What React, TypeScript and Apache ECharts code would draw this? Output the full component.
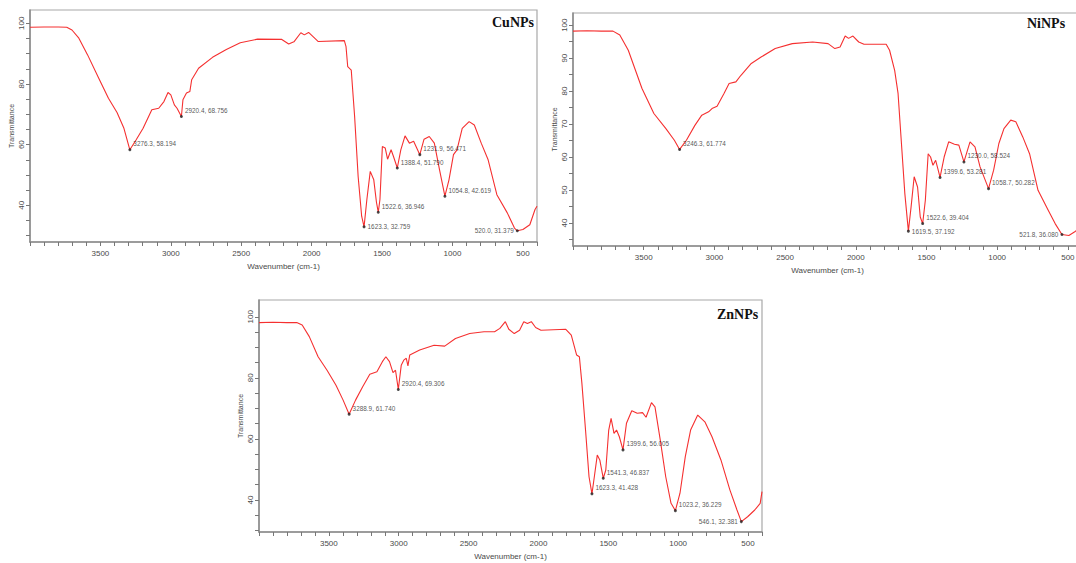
import React, { useEffect, useRef } from "react";
import * as echarts from "echarts";

// ---------- DATA ----------
const cuWavenumber = [4000, 3900, 3800, 3739, 3702, 3653, 3591, 3517, 3443, 3382, 3333, 3291, 3246, 3197, 3135, 3086, 3049, 3020, 3000, 2975, 2956, 2925, 2914, 2889, 2865, 2852, 2803, 2704, 2606, 2507, 2384, 2212, 2163, 2126, 2077, 2052, 2022, 1990, 1953, 1768, 1756, 1744, 1719, 1695, 1670, 1645, 1628, 1608, 1584, 1559, 1540, 1527, 1515, 1498, 1478, 1461, 1436, 1419, 1392, 1367, 1337, 1306, 1276, 1232, 1202, 1165, 1129, 1092, 1054, 1025, 993, 968, 931, 882, 845, 796, 747, 685, 611, 560, 540, 500, 451, 414, 400];
const cuTransmittance = [98.7, 98.8, 98.8, 98.7, 97.8, 95.1, 89.6, 82.4, 75.3, 70.6, 65.4, 58.3, 61.6, 65.4, 71.5, 72.0, 74.2, 77.2, 76.4, 73.1, 72.0, 69.3, 74.8, 77.0, 77.5, 81.4, 85.2, 88.8, 91.4, 93.6, 94.8, 94.7, 93.2, 93.9, 96.9, 96.2, 97.0, 95.6, 94.0, 94.3, 92.3, 85.7, 84.6, 69.3, 49.5, 36.4, 32.9, 41.9, 51.2, 48.4, 41.0, 37.7, 42.0, 59.4, 58.9, 55.2, 58.3, 56.1, 52.3, 58.3, 62.9, 60.5, 61.1, 56.7, 61.8, 62.7, 60.5, 51.7, 43.0, 48.4, 56.7, 58.3, 65.4, 67.6, 66.5, 60.5, 55.0, 43.5, 37.5, 32.5, 31.6, 32.0, 33.6, 38.6, 39.7];
const cuPeakWavenumber = [3291, 2925, 1628, 1527, 1392, 1232, 1054, 540];
const cuPeakTransmittance = [58.3, 69.3, 32.9, 37.7, 52.3, 56.7, 43.0, 31.6];
const cuPeakLabels = ["3276.3, 58.194", "2920.4, 68.756", "1623.3, 32.759", "1522.6, 36.946", "1388.4, 51.790", "1231.9, 56.471", "1054.8, 42.619", "520.0, 31.379"];

const niWavenumber = [4000, 3900, 3800, 3717, 3669, 3609, 3512, 3428, 3343, 3283, 3246, 3198, 3138, 3089, 3041, 3017, 2981, 2932, 2896, 2848, 2812, 2739, 2667, 2570, 2449, 2305, 2196, 2148, 2111, 2075, 2051, 2020, 1979, 1942, 1785, 1761, 1725, 1701, 1677, 1653, 1628, 1609, 1587, 1563, 1544, 1527, 1508, 1488, 1471, 1454, 1435, 1423, 1404, 1375, 1343, 1302, 1271, 1235, 1192, 1157, 1121, 1061, 1025, 988, 952, 904, 868, 819, 771, 711, 638, 590, 542, 493, 451, 420, 400];
const niTransmittance = [98.2, 98.3, 98.2, 98.2, 97.0, 92.4, 80.8, 73.2, 68.6, 65.1, 62.3, 65.1, 69.6, 72.7, 73.7, 74.7, 75.4, 79.3, 82.3, 82.8, 84.8, 88.4, 90.4, 92.9, 94.4, 94.9, 94.4, 92.9, 93.4, 96.7, 96.0, 96.7, 94.9, 94.2, 94.2, 92.4, 86.3, 79.3, 64.1, 48.9, 37.5, 44.8, 54.0, 50.9, 41.8, 39.8, 46.9, 61.0, 60.0, 57.5, 59.0, 57.0, 53.8, 60.0, 64.6, 63.9, 63.6, 58.5, 64.6, 63.1, 57.0, 50.4, 56.0, 64.1, 68.6, 71.2, 70.7, 66.1, 61.0, 49.9, 43.8, 39.8, 36.5, 36.2, 37.3, 38.5, 39.5];
const niPeakWavenumber = [3246, 1628, 1527, 1404, 1235, 1061, 542];
const niPeakTransmittance = [62.3, 37.5, 39.8, 53.8, 58.5, 50.4, 36.5];
const niPeakLabels = ["3246.3, 61.774", "1619.5, 37.192", "1522.6, 39.404", "1399.6, 53.281", "1230.0, 58.524", "1058.7, 50.282", "521.8, 36.080"];

const znWavenumber = [4000, 3900, 3800, 3730, 3691, 3640, 3577, 3513, 3449, 3398, 3355, 3309, 3258, 3207, 3156, 3117, 3092, 3066, 3041, 3023, 3003, 2982, 2964, 2946, 2934, 2921, 2850, 2747, 2671, 2594, 2492, 2390, 2314, 2276, 2237, 2212, 2173, 2135, 2105, 2079, 2051, 2020, 1982, 1804, 1765, 1727, 1707, 1689, 1663, 1638, 1617, 1600, 1579, 1561, 1536, 1518, 1497, 1480, 1459, 1441, 1421, 1395, 1370, 1332, 1293, 1255, 1230, 1191, 1166, 1128, 1089, 1051, 1020, 987, 949, 911, 860, 809, 758, 694, 630, 579, 548, 503, 452, 413, 400];
const znTransmittance = [98.1, 98.2, 98.1, 98.1, 97.3, 93.5, 86.9, 82.5, 77.6, 72.7, 68.1, 72.7, 77.1, 81.2, 82.0, 85.3, 86.9, 85.3, 81.7, 82.5, 76.2, 84.1, 85.8, 86.4, 83.9, 87.5, 89.1, 90.7, 90.4, 92.9, 94.5, 95.1, 95.1, 96.2, 98.4, 95.9, 94.5, 95.6, 98.4, 97.8, 98.4, 96.5, 95.6, 95.9, 94.0, 87.5, 86.9, 78.2, 62.9, 47.6, 42.0, 47.6, 54.7, 53.1, 47.1, 49.8, 62.9, 66.7, 61.8, 62.9, 60.7, 56.4, 65.1, 69.2, 68.4, 68.6, 67.1, 71.9, 70.5, 59.6, 47.6, 38.9, 36.5, 42.2, 54.2, 62.9, 67.8, 65.6, 60.7, 53.1, 43.3, 36.7, 32.9, 34.5, 36.7, 38.9, 42.7];
const znPeakWavenumber = [3355, 3003, 1617, 1536, 1395, 1020, 548];
const znPeakTransmittance = [68.1, 76.2, 42.0, 47.1, 56.4, 36.5, 32.9];
const znPeakLabels = ["3288.9, 61.740", "2920.4, 69.306", "1623.3, 41.428", "1541.3, 46.837", "1399.6, 56.005", "1023.2, 36.229", "546.1, 32.381"];

const panelTitles = ["CuNPs", "NiNPs", "ZnNPs"];
const xTickLabels = [500, 1000, 1500, 2000, 2500, 3000, 3500];
const cuYLabels = [40, 60, 80, 100];
const niYLabels = [40, 50, 60, 70, 80, 90, 100];
const znYLabels = [40, 60, 80, 100];
const cuYTicks = [30, 35, 40, 45, 50, 55, 60, 65, 70, 75, 80, 85, 90, 95, 100];
const niYTicks = [35, 40, 45, 50, 55, 60, 65, 70, 75, 80, 85, 90, 95, 100];
const znYTicks = [30, 35, 40, 45, 50, 55, 60, 65, 70, 75, 80, 85, 90, 95, 100];

// ---------- CHART ----------
const zip = (a: number[], b: number[]) => a.map((v, i) => [v, b[i]]);

const labelFont = "Liberation Sans, Arial, sans-serif";

export default function App() {
  const ref = useRef<HTMLDivElement>(null);

  useEffect(() => {
    if (!ref.current) return;
    const chart = echarts.init(ref.current, null, { renderer: "svg" });

    const grids = [
      { left: 30, top: 10, width: 507, height: 232 },
      { left: 573, top: 13, width: 509, height: 233 },
      { left: 259, top: 300, width: 503, height: 232 },
    ];
    const yRanges = [
      [27.9, 104.4],
      [33.0, 103.7],
      [29.5, 105.5],
    ];
    const yLabels = [cuYLabels, niYLabels, znYLabels];
    const yTicks = [cuYTicks, niYTicks, znYTicks];

    const axisColor = "#8a8a8a";
    const textColor = "#4a4a4a";

    const xAxis = grids.map((_, i) => ({
      type: "value",
      gridIndex: i,
      min: 400,
      max: 4000,
      interval: 100,
      inverse: true,
      name: "Wavenumber (cm-1)",
      nameLocation: "middle",
      nameGap: 20,
      nameTextStyle: { fontSize: 8, color: textColor, fontFamily: labelFont },
      axisLine: { show: true, onZero: false, lineStyle: { color: axisColor, width: 1.5 } },
      axisTick: { show: true, length: 4, lineStyle: { color: "#777", width: 1 } },
      axisLabel: {
        fontSize: 8,
        color: textColor,
        fontFamily: labelFont,
        margin: 7,
        formatter: (v: number) => (xTickLabels.indexOf(v) >= 0 ? String(v) : ""),
      },
      splitLine: { show: false },
    }));

    const yAxis = grids.map((_, i) => ({
      type: "value",
      gridIndex: i,
      min: yRanges[i][0],
      max: yRanges[i][1],
      name: "Transmittance",
      nameLocation: "middle",
      nameGap: 15,
      nameTextStyle: { fontSize: 7, color: textColor, fontFamily: labelFont },
      axisLine: { show: true, onZero: false, lineStyle: { color: axisColor, width: 1.5 } },
      axisTick: { show: true, length: 4, customValues: yTicks[i], lineStyle: { color: "#777", width: 1 } },
      axisLabel: {
        fontSize: 8,
        color: textColor,
        fontFamily: labelFont,
        rotate: 90,
        margin: 5,
        customValues: yLabels[i],
      },
      splitLine: { show: false },
    }));

    const spectra = [
      zip(cuWavenumber, cuTransmittance),
      zip(niWavenumber, niTransmittance),
      zip(znWavenumber, znTransmittance),
    ];
    const peaks = [
      { w: cuPeakWavenumber, t: cuPeakTransmittance, l: cuPeakLabels, centered: [2] },
      { w: niPeakWavenumber, t: niPeakTransmittance, l: niPeakLabels, centered: [1] },
      { w: znPeakWavenumber, t: znPeakTransmittance, l: znPeakLabels, centered: [] as number[] },
    ];

    const series: any[] = [];
    spectra.forEach((d, i) => {
      series.push({
        type: "line",
        xAxisIndex: i,
        yAxisIndex: i,
        data: d,
        showSymbol: false,
        symbol: "none",
        lineStyle: { color: "#f53030", width: 1.1 },
        emphasis: { disabled: true },
      });
    });
    peaks.forEach((p, i) => {
      series.push({
        type: "scatter",
        xAxisIndex: i,
        yAxisIndex: i,
        symbol: "circle",
        symbolSize: 3,
        itemStyle: { color: "#222" },
        z: 5,
        emphasis: { disabled: true },
        data: p.w.map((w, k) => {
          const left = w < 700;
          const centered = p.centered.indexOf(k) >= 0;
          return {
            value: [w, p.t[k]],
            label: {
              show: true,
              formatter: p.l[k],
              position: left ? "left" : "right",
              distance: 2,
              offset: left || centered ? [0, 0] : [0, -6],
              fontSize: 6.4,
              color: "#2a2a2a",
              textBorderWidth: 0,
              fontFamily: labelFont,
            },
          };
        }),
      });
    });

    const titlePos = [
      { x: 492, y: 22 },
      { x: 1027, y: 23 },
      { x: 717, y: 314 },
    ];

    chart.setOption({
      animation: false,
      backgroundColor: "#ffffff",
      grid: grids.map((g) => ({ ...g, show: true, borderColor: "#a8a8a8", borderWidth: 1.2, backgroundColor: "transparent" })),
      xAxis,
      yAxis,
      series,
      graphic: panelTitles.map((t, i) => ({
        type: "text",
        x: titlePos[i].x,
        y: titlePos[i].y,
        z: 10,
        style: {
          text: t,
          font: 'bold 14px "Liberation Serif", "Times New Roman", serif',
          fill: "#111",
          textVerticalAlign: "middle",
        },
      })),
    });

    return () => chart.dispose();
  }, []);

  return (
    <div style={{ position: "fixed", left: 0, top: 0, width: 1076, height: 563, overflow: "hidden", background: "#fff" }}>
      <div ref={ref} style={{ width: 1090, height: 563 }} />
    </div>
  );
}
